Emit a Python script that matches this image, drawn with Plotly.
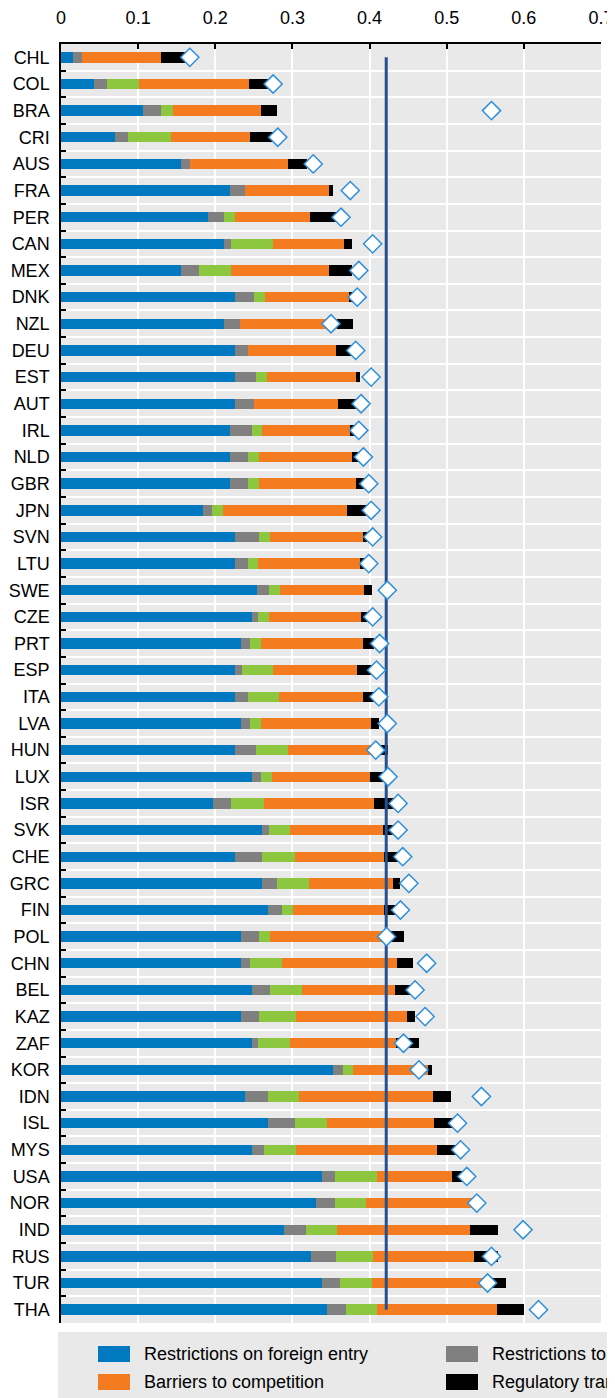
import plotly.graph_objects as go

countries = ["CHL","COL","BRA","CRI","AUS","FRA","PER","CAN","MEX","DNK","NZL","DEU","EST","AUT","IRL","NLD",
             "GBR","JPN","SVN","LTU","SWE","CZE","PRT","ESP","ITA","LVA","HUN","LUX","ISR","SVK","CHE","GRC",
             "FIN","POL","CHN","BEL","KAZ","ZAF","KOR","IDN","ISL","MYS","USA","NOR","IND","RUS","TUR","THA"]

foreign_entry = [0.015,0.043,0.106,0.070,0.155,0.219,0.190,0.211,0.155,0.225,0.211,0.225,0.225,0.225,0.219,0.219,
                 0.219,0.184,0.225,0.225,0.254,0.247,0.233,0.225,0.225,0.233,0.225,0.247,0.197,0.260,0.225,0.260,
                 0.268,0.233,0.233,0.247,0.233,0.247,0.352,0.239,0.268,0.247,0.338,0.331,0.289,0.324,0.338,0.345]
movement_people = [0.012,0.016,0.024,0.017,0.012,0.020,0.021,0.009,0.024,0.025,0.021,0.017,0.028,0.025,0.028,0.024,
                   0.024,0.012,0.032,0.017,0.016,0.008,0.012,0.009,0.017,0.012,0.028,0.012,0.024,0.009,0.036,0.020,
                   0.019,0.024,0.012,0.024,0.024,0.008,0.013,0.029,0.035,0.016,0.017,0.024,0.028,0.032,0.024,0.024]
other_discrim = [0.000,0.042,0.015,0.055,0.000,0.000,0.014,0.055,0.041,0.014,0.000,0.000,0.014,0.000,0.014,0.014,
                 0.014,0.014,0.014,0.013,0.014,0.014,0.014,0.041,0.041,0.014,0.041,0.014,0.042,0.028,0.042,0.042,
                 0.014,0.014,0.041,0.041,0.048,0.042,0.014,0.041,0.042,0.041,0.055,0.041,0.041,0.048,0.041,0.041]
barriers_comp = [0.103,0.143,0.114,0.103,0.127,0.109,0.098,0.092,0.127,0.109,0.126,0.115,0.115,0.109,0.114,0.120,
                 0.126,0.161,0.121,0.133,0.109,0.120,0.132,0.109,0.109,0.143,0.115,0.127,0.143,0.120,0.116,0.109,
                 0.118,0.150,0.150,0.121,0.144,0.137,0.097,0.173,0.138,0.184,0.097,0.141,0.172,0.132,0.150,0.155]
reg_transparency = [0.031,0.029,0.021,0.032,0.025,0.005,0.036,0.010,0.030,0.005,0.021,0.024,0.005,0.027,0.009,0.012,
                    0.011,0.025,0.005,0.007,0.010,0.011,0.015,0.020,0.017,0.010,0.015,0.023,0.027,0.015,0.019,0.009,
                    0.015,0.024,0.020,0.022,0.010,0.030,0.005,0.024,0.025,0.025,0.018,0.002,0.036,0.030,0.024,0.035]
diamond_values = [0.167,0.275,0.558,0.281,0.327,0.375,0.363,0.404,0.386,0.384,0.350,0.382,0.402,0.389,0.386,0.392,
                  0.399,0.402,0.404,0.399,0.423,0.404,0.413,0.409,0.412,0.423,0.408,0.424,0.437,0.437,0.443,0.451,
                  0.440,0.422,0.474,0.459,0.472,0.444,0.464,0.545,0.514,0.518,0.526,0.539,0.599,0.558,0.553,0.619]
average_value = 0.4216

series_names = ["Restrictions on foreign entry", "Restrictions to movement of people",
                "Other discriminatory measures", "Barriers to competition", "Regulatory transparency"]
series_values = [foreign_entry, movement_people, other_discrim, barriers_comp, reg_transparency]
series_colors = ["#0079C1", "#808080", "#8DC63F", "#F47B20", "#000000"]

x_ticks = [0, 0.1, 0.2, 0.3, 0.4, 0.5, 0.6, 0.7]
x_tick_labels = ["0", "0.1", "0.2", "0.3", "0.4", "0.5", "0.6", "0.7"]

FONT = "Liberation Sans, Arial, sans-serif"
W, H = 615, 1398
OFF = 8  # page body margin added by the html page
# plot area in page pixels: left 61, right 601, top 44, bottom 1323
ML, MT = 61 - OFF, 44 - OFF
MR = W - (601 - OFF)
MB = H - (1323 - OFF)
PW, PH = W - ML - MR, H - MT - MB

def px(xp):
    return (xp - OFF - ML) / PW

def py(yp):
    return (H - MB - (yp - OFF)) / PH

fig = go.Figure()
for name, vals, col in zip(series_names, series_values, series_colors):
    fig.add_trace(go.Bar(y=countries, x=vals, orientation="h", name=name,
                         marker=dict(color=col, line=dict(width=0)), showlegend=False))

fig.add_trace(go.Scatter(x=[average_value, average_value], y=[countries[0], countries[-1]],
                         mode="lines", line=dict(color="#24508F", width=3), showlegend=False))

fig.add_trace(go.Scatter(x=diamond_values, y=countries, mode="markers", showlegend=False,
                         marker=dict(symbol="diamond", size=14, color="white",
                                     line=dict(color="#2F8FD8", width=1.5))))

# legend panel (manual, it runs past the right edge as in the original)
shapes = [dict(type="rect", xref="paper", yref="paper", x0=px(58), x1=px(660), y0=py(1332), y1=py(1420),
               fillcolor="#E9E9E9", line=dict(width=0), layer="below")]
annotations = []
legend_pos = [(98, 1354), (446, 1354), (794, 1354), (98, 1382), (446, 1382)]
for (lx, ly), name, col in zip(legend_pos, series_names, series_colors):
    shapes.append(dict(type="rect", xref="paper", yref="paper", x0=px(lx), x1=px(lx + 32),
                       y0=py(ly + 8), y1=py(ly - 8), fillcolor=col, line=dict(width=0)))
    annotations.append(dict(xref="paper", yref="paper", x=px(lx + 45), y=py(ly), text=name,
                            showarrow=False, xanchor="left", yanchor="middle", borderpad=0,
                            font=dict(family=FONT, size=18, color="#000000")))

fig.update_layout(
    template="plotly",
    width=W, height=H,
    margin=dict(l=ML, r=MR, t=MT, b=MB, pad=0, autoexpand=False),
    paper_bgcolor="white", plot_bgcolor="#E9E9E9",
    barmode="stack", bargap=0.61,
    font=dict(family=FONT, size=18, color="#000000"),
    shapes=shapes, annotations=annotations,
    xaxis=dict(side="top", range=[0, 0.7], tickvals=x_ticks, ticktext=x_tick_labels,
               showgrid=True, gridcolor="white", gridwidth=2, automargin=False,
               showline=True, linecolor="#000000", linewidth=1.5, mirror=False,
               ticks="inside", ticklen=5, tickcolor="#000000", tickwidth=1.5,
               ticklabelstandoff=11, zeroline=False, fixedrange=True),
    yaxis=dict(categoryorder="array", categoryarray=countries,
               range=[len(countries) - 0.5, -0.5], automargin=False,
               tickson="boundaries", ticks="inside", ticklen=5, tickcolor="#000000", tickwidth=1.5,
               showgrid=True, gridcolor="white", gridwidth=2,
               showline=True, linecolor="#000000", linewidth=1.5,
               ticklabelstandoff=6, fixedrange=True),
)

fig.write_html("out.html")
